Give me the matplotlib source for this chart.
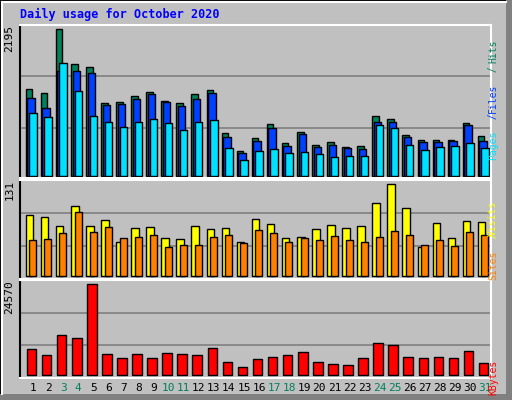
import matplotlib
matplotlib.use("Agg")
import matplotlib.pyplot as plt
from matplotlib.patches import Rectangle
from matplotlib.lines import Line2D

days = list(range(1, 32))
weekend = [3, 4, 10, 11, 17, 18, 24, 25, 31]
hits = [1300,1240,2195,1675,1630,1090,1105,1195,1255,1120,1090,1225,1285,640,370,565,
        775,490,655,460,505,430,445,895,850,610,535,535,535,790,595]
files = [1165,1015,1575,1575,1540,1060,1075,1150,1225,1105,1045,1150,1240,580,340,520,
         715,445,625,430,460,415,400,805,805,580,505,505,520,760,520]
pages = [940,880,1690,1270,895,805,730,805,850,790,685,805,835,415,235,370,
         400,340,355,325,280,295,295,760,715,460,385,430,445,490,415]
visits = [87,84,71,100,71,80,48,68,70,54,53,71,67,68,48,81,74,54,56,67,73,68,71,103,131,97,41,75,54,78,77]
sites = [51,53,61,91,63,70,54,56,58,41,44,44,56,58,47,66,61,48,54,51,57,51,48,56,64,58,44,51,43,63,58]
kbytes = [7080,5470,10850,10040,24570,5740,4660,5740,4660,6010,5740,5470,7350,3590,2240,4390,
          4930,5470,6280,3590,3050,2780,4660,8700,8160,4930,4660,4930,4660,6550,3320]

C_HITS, C_FILES, C_PAGES = "#00805C", "#0040FF", "#00E0FF"
C_VIS, C_SITES, C_KB = "#FFFF00", "#FF8000", "#FF0000"
BG = "#C0C0C0"
W, H = 512, 400

fig = plt.figure(figsize=(5.12, 4.0), dpi=100)
fig.patch.set_facecolor(BG)
fig.add_artist(Rectangle((0, 0), 1, 1, transform=fig.transFigure, fill=False, ec="black", lw=1.5))
fig.add_artist(Rectangle((1 - 6/W, 0), 6/W, 1, transform=fig.transFigure, fc="#808080", ec="none"))
fig.add_artist(Rectangle((0, 0), 1, 6/H, transform=fig.transFigure, fc="#808080", ec="none"))
fig.add_artist(Line2D([2/W, 2/W], [6/H, 1 - 2/H], transform=fig.transFigure, color="white", lw=1.5))
fig.add_artist(Line2D([2/W, 1 - 6/W], [1 - 2/H, 1 - 2/H], transform=fig.transFigure, color="white", lw=1.5))

px = 15.07
xl = 1 - 13 / px
xr = xl + 471 / px

def make_ax(top, bottom):
    ax = fig.add_axes([20/W, 1 - bottom/H, 471/W, (bottom - top)/H])
    ax.set_facecolor(BG)
    ax.set_xlim(xl, xr)
    ax.set_xticks([]); ax.set_yticks([])
    for s in ax.spines.values():
        s.set_linewidth(1.5)
    ax.spines["top"].set_color("white"); ax.spines["right"].set_color("white")
    ax.spines["left"].set_color("black"); ax.spines["bottom"].set_color("white")
    return ax

def grid(ax, m):
    for f in (0.33, 0.68):
        ax.axhline(f * m, color="#808080", lw=1.2, zorder=0)

u = 1 / px
kw = dict(edgecolor="black", linewidth=1, align="edge", zorder=2)

ax1 = make_ax(25, 178)
m1 = max(hits)
ax1.set_ylim(-m1 * 0.014, m1 * 1.03)
grid(ax1, m1)
ax1.bar([d - 7.3*u for d in days], hits, width=6.6*u, color=C_HITS, **kw)
ax1.bar([d - 5.7*u for d in days], files, width=7.4*u, color=C_FILES, **kw)
ax1.bar([d - 3.7*u for d in days], pages, width=7.4*u, color=C_PAGES, **kw)

ax2 = make_ax(180, 279)
m2 = max(visits)
ax2.set_ylim(-m2 * 0.03, m2 * 1.04)
grid(ax2, m2)
ax2.bar([d - 7.3*u for d in days], visits, width=7.6*u, color=C_VIS, **kw)
ax2.bar([d - 3.7*u for d in days], sites, width=7*u, color=C_SITES, **kw)

ax3 = make_ax(280, 378)
m3 = max(kbytes)
ax3.set_ylim(-m3 * 0.03, m3 * 1.04)
grid(ax3, m3)
ax3.bar([d - 6.3*u for d in days], kbytes, width=9.6*u, color=C_KB, **kw)

mono = "DejaVu Sans Mono"
for d in days:
    ax3.text(d, -0.1, str(d), transform=ax3.get_xaxis_transform(), ha="center", va="center",
             fontsize=8, family=mono, color=C_HITS if d in weekend else "black")

fig.text(20/W, 1 - 14/H, "Daily usage for October 2020", color="#0000FF", fontsize=8.5,
         family=mono, weight="bold", va="center")
for ax, val in ((ax1, m1), (ax2, m2), (ax3, m3)):
    ax.text(-0.012, 1.0, str(val), transform=ax.transAxes, rotation=90, ha="right", va="top",
            fontsize=8, family=mono)

FS = 7
CW = 0.602 * FS * 100 / 72  # char width in px

def right_label(top_px, parts):
    # parts listed bottom-to-top (text reads upward)
    total = sum(len(t) for t, _ in parts) * CW
    y = top_px + total  # bottom pixel (from top)
    for txt, col in parts:
        fig.text(498/W, 1 - y/H, txt, rotation=90, ha="center", va="bottom",
                 fontsize=FS, family=mono, color=col, rotation_mode="anchor")
        y -= len(txt) * CW

right_label(28, [("Pages", C_PAGES), (" / ", C_FILES), ("Files", C_FILES), (" / ", C_HITS), ("Hits", C_HITS)])
right_label(183, [("Sites", C_SITES), (" / ", C_VIS), ("Visits", C_VIS)])
right_label(342, [("KBytes", C_KB)])

fig.savefig("out.png", dpi=100, facecolor=BG)
